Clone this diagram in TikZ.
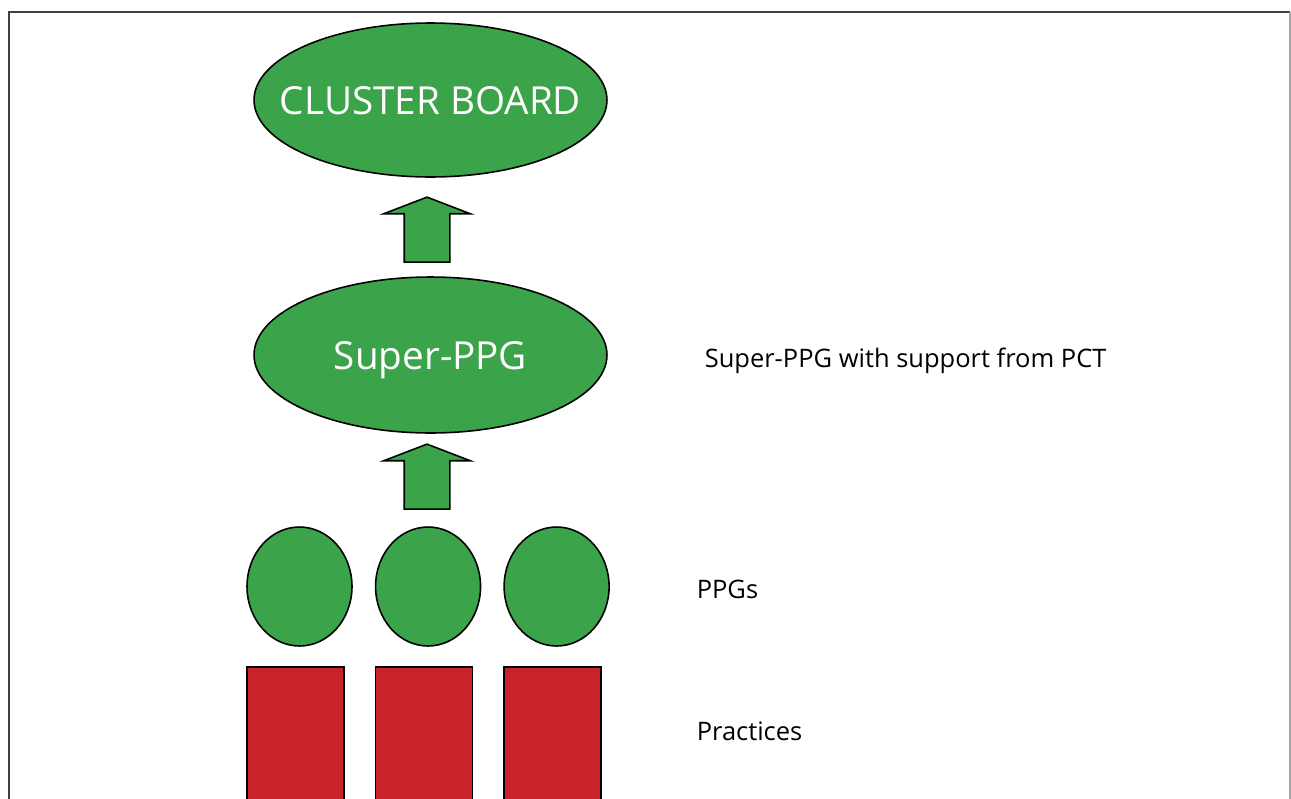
\documentclass[tikz,border=0pt]{standalone}
\usepackage{fontspec}
\setmainfont{Open Sans}
\usetikzlibrary{shapes.geometric,shapes.arrows,positioning}

\definecolor{boardgreen}{RGB}{59,163,74}
\definecolor{practred}{RGB}{201,34,42}

\begin{document}
\begin{tikzpicture}[x=0.02cm,y=-0.02cm,line width=0.9pt,
                    node distance=0.44cm]
  \tikzstyle{every node}=[inner sep=0pt]
  \tikzstyle{bigoval}=[ellipse,draw=black,fill=boardgreen,minimum width=7.06cm,
                       label={[text=white,font=\fontsize{22}{26}\selectfont,
                               text depth=0pt]center:#1}]
  \tikzstyle{ppg}=[ellipse,draw=black,fill=boardgreen,
                   minimum width=2.1cm,minimum height=2.38cm]
  \tikzstyle{practice}=[rectangle,draw=black,fill=practred,
                        minimum width=1.94cm,minimum height=3.4cm,anchor=north]
  \tikzstyle{uparrow}=[single arrow,draw=black,fill=boardgreen,rotate=90,
                       inner sep=0.44cm,minimum height=1.3cm,
                       single arrow head extend=0.41cm,
                       single arrow tip angle=138]
  \tikzstyle{side}=[anchor=base west,font=\fontsize{14.5}{17}\selectfont]

  \clip (0,0) rectangle (1291,798);
  % frame
  \draw[line width=0.8pt,black!75] (9,800) -- (9,12) -- (1290,12);
  \draw[line width=0.8pt,black!35] (1290,12) -- (1290,800);

  \node[bigoval=CLUSTER BOARD,minimum height=3.08cm] (cluster) at (430.5,100) {};
  \node[bigoval=Super-PPG,minimum height=3.12cm]     (super)   at (430.5,355) {};

  \node[uparrow] (up1) at (427,234) {};
  \node[uparrow] (up2) at (427,481) {};

  \node[ppg] (ppg1) at (299.5,586.5) {};
  \node[ppg] (ppg2) [right=of ppg1] {};
  \node[ppg] (ppg3) [right=of ppg2] {};

  \node[practice] (prac1) at (295.5,666) {};
  \node[practice] (prac2) [right=0.6cm of prac1] {};
  \node[practice] (prac3) [right=0.6cm of prac2] {};

  \node[side] (superlbl) at (704,367) {Super-PPG with support from PCT};
  \node[side] (ppglbl)   at (696,598) {PPGs};
  \node[side] (praclbl)  at (696,740) {Practices};
\end{tikzpicture}
\end{document}
